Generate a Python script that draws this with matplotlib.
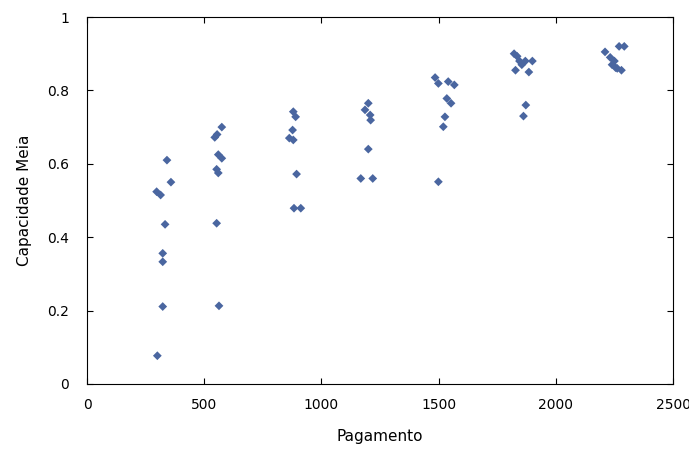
import numpy as np
import matplotlib
matplotlib.use("Agg")
import matplotlib.pyplot as plt

# Payment (x) and mean capacity (y), grouped by payment level
pay_300 = [341, 358, 297, 314, 333, 323, 323, 323, 300]
cap_300 = [0.610, 0.550, 0.524, 0.515, 0.435, 0.356, 0.333, 0.211, 0.077]

pay_550 = [575, 555, 545, 560, 575, 553, 560, 553, 563]
cap_550 = [0.700, 0.680, 0.672, 0.625, 0.615, 0.585, 0.575, 0.438, 0.213]

pay_900 = [880, 890, 877, 863, 880, 894, 883, 912]
cap_900 = [0.742, 0.728, 0.692, 0.670, 0.665, 0.572, 0.479, 0.479]

pay_1200 = [1200, 1186, 1208, 1210, 1200, 1168, 1219]
cap_1200 = [0.765, 0.747, 0.733, 0.719, 0.640, 0.560, 0.560]

pay_1500 = [1485, 1499, 1541, 1567, 1535, 1553, 1527, 1520, 1499]
cap_1500 = [0.835, 0.819, 0.824, 0.815, 0.778, 0.765, 0.728, 0.701, 0.551]

pay_1850 = [1822, 1835, 1845, 1855, 1828, 1870, 1885, 1900, 1872, 1862]
cap_1850 = [0.900, 0.893, 0.880, 0.870, 0.855, 0.880, 0.850, 0.880, 0.760, 0.730]

pay_2250 = [2210, 2232, 2250, 2240, 2262, 2280, 2270, 2292, 2255]
cap_2250 = [0.905, 0.890, 0.880, 0.870, 0.860, 0.855, 0.920, 0.920, 0.862]

pagamento = np.concatenate([pay_300, pay_550, pay_900, pay_1200, pay_1500, pay_1850, pay_2250])
capacidade = np.concatenate([cap_300, cap_550, cap_900, cap_1200, cap_1500, cap_1850, cap_2250])

x_ticks = [0, 500, 1000, 1500, 2000, 2500]
y_ticks = [0, 0.2, 0.4, 0.6, 0.8, 1]
y_tick_labels = ["0", "0.2", "0.4", "0.6", "0.8", "1"]

plt.rcParams["font.family"] = ["DejaVu Sans"]

fig = plt.figure(figsize=(6.89, 4.5), dpi=100)
ax = fig.add_axes([0.1263, 0.1467, 0.8505, 0.8155])

ax.scatter(pagamento, capacidade, marker="D", s=20, color="#4a66a0",
           edgecolors="none", zorder=3)

ax.set_xlim(0, 2500)
ax.set_ylim(0, 1)
ax.set_xticks(x_ticks)
ax.set_yticks(y_ticks)
ax.set_yticklabels(y_tick_labels)
ax.tick_params(direction="in", top=True, right=True, length=4, width=0.8,
               labelsize=10, colors="black")
ax.tick_params(axis="x", pad=10)
ax.tick_params(axis="y", pad=13)
for spine in ax.spines.values():
    spine.set_linewidth(0.8)

ax.set_xlabel("Pagamento", fontsize=11, labelpad=12)
ax.set_ylabel("Capacidade Meia", fontsize=11, labelpad=11)

fig.savefig("out.png", dpi=100)
